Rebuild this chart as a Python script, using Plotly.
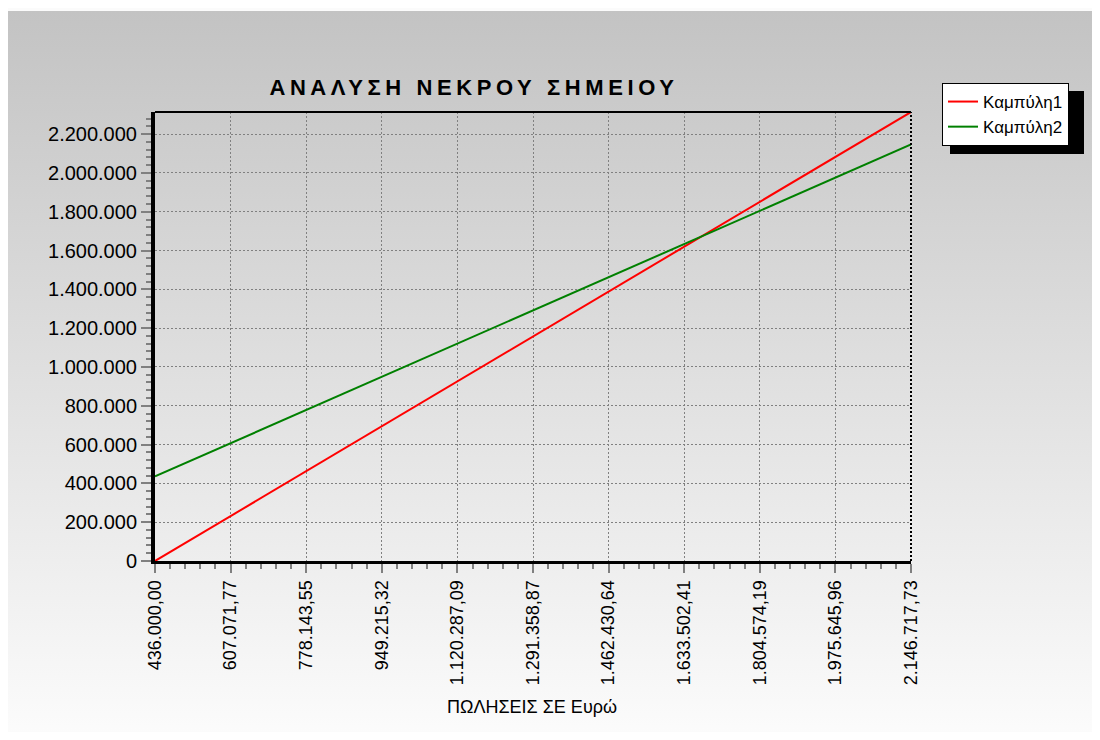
import base64
import plotly.graph_objects as go

# ---- data ----
sales = [436000.00, 607071.77, 778143.55, 949215.32, 1120287.09, 1291358.87,
         1462430.64, 1633502.41, 1804574.19, 1975645.96, 2146717.73]
sales_labels = ["436.000,00", "607.071,77", "778.143,55", "949.215,32", "1.120.287,09",
                "1.291.358,87", "1.462.430,64", "1.633.502,41", "1.804.574,19",
                "1.975.645,96", "2.146.717,73"]
curve1 = [0, 231400, 462800, 694200, 925600, 1157000, 1388400, 1619800, 1851200,
          2082600, 2314000]
curve2 = [436000, 607072, 778144, 949215, 1120287, 1291359, 1462431, 1633502,
          1804574, 1975646, 2146718]
series_names = ["Καμπύλη1", "Καμπύλη2"]
title_text = "ΑΝΑΛΥΣΗ ΝΕΚΡΟΥ ΣΗΜΕΙΟΥ"
xaxis_title = "ΠΩΛΗΣΕΙΣ ΣΕ Ευρώ"

FONT = "Liberation Sans, Arial, sans-serif"
OFF = 8                            # page body margin
W, H = 1100 - OFF, 740 - 2 * OFF
L, R, T, B = 155, 911, 112, 561   # plot area in screenshot pixels


def px_x(p):
    return (p - L) / (R - L)


def px_y(p):
    return (B - p) / (B - T)


# gradient background as an inline svg image
svg = ('<svg xmlns="http://www.w3.org/2000/svg" width="100" height="100" '
       'viewBox="0 0 100 100" preserveAspectRatio="none">'
       '<defs><linearGradient id="g" x1="0" y1="0" x2="0" y2="1">'
       '<stop offset="0" stop-color="#c3c3c3"/><stop offset="1" stop-color="#fcfcfc"/>'
       '</linearGradient></defs><rect width="100" height="100" fill="url(#g)"/></svg>')
svg_uri = "data:image/svg+xml;base64," + base64.b64encode(svg.encode()).decode()

fig = go.Figure()
fig.add_trace(go.Scatter(x=sales, y=curve1, mode="lines", name=series_names[0],
                         line=dict(color="#ff0000", width=2)))
fig.add_trace(go.Scatter(x=sales, y=curve2, mode="lines", name=series_names[1],
                         line=dict(color="#008000", width=2)))

fig.update_layout(
    width=W, height=H,
    margin=dict(l=L - OFF, r=W - (R - OFF), t=T - OFF, b=H - (B - OFF), pad=0),
    paper_bgcolor="#fbfbfb",
    plot_bgcolor="rgba(0,0,0,0)",
    separators=",.",
    font=dict(family=FONT, color="black", size=18),
    title=dict(
        text='<span style="letter-spacing:4.6px">' + title_text + '</span>',
        font=dict(family=FONT, size=22, color="black", weight="bold"),
        x=(474 - OFF) / W, xref="container", xanchor="center",
        y=1 - (87 - OFF) / H, yref="container", yanchor="middle"),
    showlegend=True,
    legend=dict(
        x=px_x(942), y=px_y(83), xanchor="left", yanchor="top",
        bgcolor="white", bordercolor="black", borderwidth=1,
        font=dict(family=FONT, size=17, color="black"),
        itemwidth=30, tracegroupgap=0),
    images=[dict(source=svg_uri, xref="paper", yref="paper",
                 x=px_x(OFF), y=px_y(11), sizex=px_x(1100) - px_x(OFF),
                 sizey=px_y(11) - px_y(740),
                 xanchor="left", yanchor="top", sizing="stretch", layer="below")],
)

fig.update_xaxes(
    range=[sales[0], sales[-1]],
    tickmode="array", tickvals=sales, ticktext=sales_labels,
    tickangle=-90, tickfont=dict(size=18, family=FONT),
    ticks="outside", ticklen=9, tickwidth=2, tickcolor="#808080",
    showline=True, linecolor="black", linewidth=3,
    showgrid=True, gridcolor="#808080", griddash="2px,2px", gridwidth=1,
    zeroline=False,
    minor=dict(tickmode="linear", tick0=sales[0], dtick=(sales[-1] - sales[0]) / 50,
               ticks="outside", ticklen=5, tickwidth=2, tickcolor="#808080", showgrid=False),
)
fig.update_yaxes(
    range=[0, curve1[-1]],
    tickmode="linear", tick0=0, dtick=200000, tickformat=",",
    tickfont=dict(size=20, family=FONT),
    ticks="outside", ticklen=10, tickwidth=2, tickcolor="#808080",
    showline=True, linecolor="black", linewidth=4,
    showgrid=True, gridcolor="#808080", griddash="2px,2px", gridwidth=1,
    zeroline=False,
    minor=dict(tickmode="linear", tick0=0, dtick=40000,
               ticks="outside", ticklen=5, tickwidth=2, tickcolor="#808080", showgrid=False),
)

# top and right frame lines
fig.add_shape(type="line", xref="paper", yref="paper", x0=0, x1=1, y0=1, y1=1,
              line=dict(color="black", width=2))
fig.add_shape(type="line", xref="paper", yref="paper", x0=1, x1=1, y0=0, y1=1,
              line=dict(color="black", width=2, dash="2px,2px"))

# legend shadow
fig.add_shape(type="rect", xref="paper", yref="paper", layer="below",
              x0=px_x(950), x1=px_x(1084), y0=px_y(154), y1=px_y(91),
              fillcolor="black", line=dict(width=0))

# x axis title
fig.add_annotation(text=xaxis_title, xref="paper", yref="paper",
                   x=px_x(532), y=px_y(707), xanchor="center", yanchor="middle",
                   showarrow=False, font=dict(family=FONT, size=18, color="black"))

fig.write_html("out.html")
